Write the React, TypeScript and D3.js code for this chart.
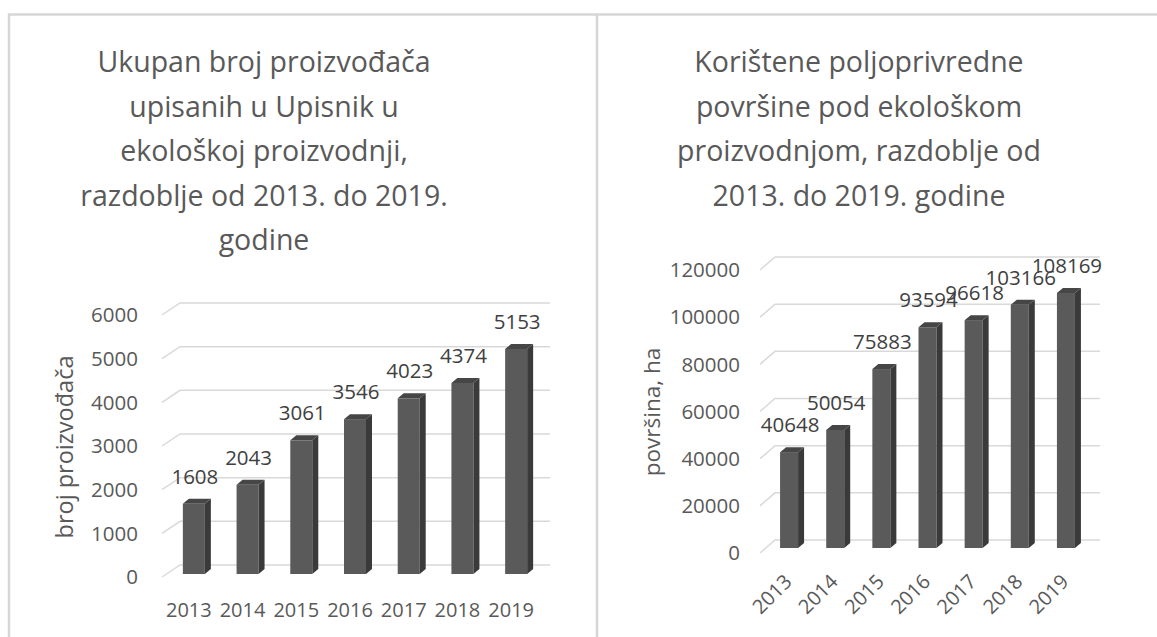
import React, { useEffect, useRef } from "react";
import * as d3 from "d3";

const years = ["2013", "2014", "2015", "2016", "2017", "2018", "2019"];
const producers = [1608, 2043, 3061, 3546, 4023, 4374, 5153];
const areaHa = [40648, 50054, 75883, 93594, 96618, 103166, 108169];
const producerTicks = [0, 1000, 2000, 3000, 4000, 5000, 6000];
const areaTicks = [0, 20000, 40000, 60000, 80000, 100000, 120000];
const leftTitle = [
    "Ukupan broj proizvođača",
    "upisanih u Upisnik u",
    "ekološkoj proizvodnji,",
    "razdoblje od 2013. do 2019.",
    "godine",
];
const rightTitle = [
    "Korištene poljoprivredne",
    "površine pod ekološkom",
    "proizvodnjom, razdoblje od",
    "2013. do 2019. godine",
];

const FONT = "'Open Sans', sans-serif";
const TEXT = "#595959";

// settings for the two 3d column charts
const leftCfg = {
    values: producers,
    ticks: producerTicks,
    title: leftTitle,
    titleX: 264,
    axisTitle: "broj proizvođača",
    axisTitleX: 65,
    axisTitleY: 447,
    axisTitleSize: 23.5,
    wallX: 180,
    wallEnd: 550,
    floorY: 565,
    topY: 303,
    sideDx: 18,
    sideDy: 12,
    tickX: 138,
    xRange: [167, 543],
    barShift: 9,
    barWidth: 22,
    depthX: 6,
    depthY: 5,
    rotate: false,
};

const rightCfg = {
    values: areaHa,
    ticks: areaTicks,
    title: rightTitle,
    titleX: 859,
    axisTitle: "površina, ha",
    axisTitleX: 652,
    axisTitleY: 412,
    axisTitleSize: 22.5,
    wallX: 775,
    wallEnd: 1100,
    floorY: 540,
    topY: 257,
    sideDx: 15,
    sideDy: 13,
    tickX: 740,
    xRange: [766, 1089],
    barShift: 8,
    barWidth: 18,
    depthX: 6,
    depthY: 5,
    rotate: true,
};

const drawChart = (g, cfg) => {
    const max = cfg.ticks[cfg.ticks.length - 1];
    const y = d3.scaleLinear().domain([0, max]).range([cfg.floorY, cfg.topY]);
    const x = d3.scalePoint().domain(years).range(cfg.xRange).padding(0.5);

    // title
    g.selectAll("text.title")
        .data(cfg.title)
        .enter()
        .append("text")
        .attr("class", "title")
        .attr("x", cfg.titleX)
        .attr("y", (d, i) => 72 + i * 44.5)
        .attr("text-anchor", "middle")
        .style("font-size", "28.5px")
        .style("fill", TEXT)
        .text((d) => d);

    // gridlines with the side wall diagonal
    g.selectAll("path.grid")
        .data(cfg.ticks)
        .enter()
        .append("path")
        .attr("class", "grid")
        .attr(
            "d",
            (d) =>
                `M${cfg.wallX - cfg.sideDx},${y(d) + cfg.sideDy}L${cfg.wallX},${y(d)}H${cfg.wallEnd}`
        )
        .attr("fill", "none")
        .attr("stroke", "#d9d9d9")
        .attr("stroke-width", 1.5);

    g.selectAll("text.tick")
        .data(cfg.ticks)
        .enter()
        .append("text")
        .attr("class", "tick")
        .attr("x", cfg.tickX)
        .attr("y", (d) => y(d) + cfg.sideDy)
        .attr("dy", "0.35em")
        .attr("text-anchor", "end")
        .style("font-size", "20.5px")
        .style("fill", TEXT)
        .text((d) => d);

    g.append("text")
        .attr("transform", `translate(${cfg.axisTitleX},${cfg.axisTitleY}) rotate(-90)`)
        .attr("dy", "0.35em")
        .attr("text-anchor", "middle")
        .style("font-size", `${cfg.axisTitleSize}px`)
        .style("fill", TEXT)
        .text(cfg.axisTitle);

    const bw = cfg.barWidth;
    const base = y(0) + cfg.barShift;
    const bar = g
        .selectAll("g.bar")
        .data(cfg.values)
        .enter()
        .append("g")
        .attr("class", "bar");

    bar.append("rect")
        .attr("x", (d, i) => x(years[i]) - bw / 2)
        .attr("y", (d) => y(d) + cfg.barShift)
        .attr("width", bw)
        .attr("height", (d) => y(0) - y(d))
        .attr("fill", "#5a5a5a");

    bar.append("path")
        .attr("d", (d, i) => {
            const r = x(years[i]) + bw / 2;
            const t = y(d) + cfg.barShift;
            return `M${r},${t}L${r + cfg.depthX},${t - cfg.depthY}L${r + cfg.depthX},${base - cfg.depthY}L${r},${base}Z`;
        })
        .attr("fill", "#3a3a3a");

    bar.append("path")
        .attr("d", (d, i) => {
            const l = x(years[i]) - bw / 2;
            const t = y(d) + cfg.barShift;
            return `M${l},${t}L${l + cfg.depthX},${t - cfg.depthY}L${l + bw + cfg.depthX},${t - cfg.depthY}L${l + bw},${t}Z`;
        })
        .attr("fill", "#464646");

    // value labels
    bar.append("text")
        .attr("x", (d, i) => x(years[i]) + 1)
        .attr("y", (d) => y(d) + cfg.barShift - 20)
        .attr("text-anchor", "middle")
        .style("font-size", "20.5px")
        .style("fill", "#404040")
        .text((d) => d);

    // category labels
    if (cfg.rotate) {
        g.selectAll("text.cat")
            .data(years)
            .enter()
            .append("text")
            .attr("class", "cat")
            .attr("transform", (d) => `translate(${x(d) + 4},${base + 35}) rotate(-45)`)
            .attr("text-anchor", "end")
            .style("font-size", "20px")
            .style("fill", TEXT)
            .text((d) => d);
    } else {
        g.selectAll("text.cat")
            .data(years)
            .enter()
            .append("text")
            .attr("class", "cat")
            .attr("x", (d) => x(d) - 5)
            .attr("y", base + 43)
            .attr("text-anchor", "middle")
            .style("font-size", "20px")
            .style("fill", TEXT)
            .text((d) => d);
    }
};

const App = () => {
    const svgRef = useRef(null);

    useEffect(() => {
        const svg = d3.select(svgRef.current);
        svg.selectAll("*").remove();

        // panel frame
        svg.append("path")
            .attr("d", "M9,637V14.5H1157M597,14.5V637")
            .attr("fill", "none")
            .attr("stroke", "#d6d6d6")
            .attr("stroke-width", 2.5);

        drawChart(svg.append("g"), leftCfg);
        drawChart(svg.append("g"), rightCfg);
    }, []);

    return (
        <div style={{ position: "absolute", left: 0, top: 0 }}>
            <svg
                ref={svgRef}
                width={1157}
                height={637}
                style={{ display: "block", background: "#fff", fontFamily: FONT }}
            />
        </div>
    );
};

export default App;
